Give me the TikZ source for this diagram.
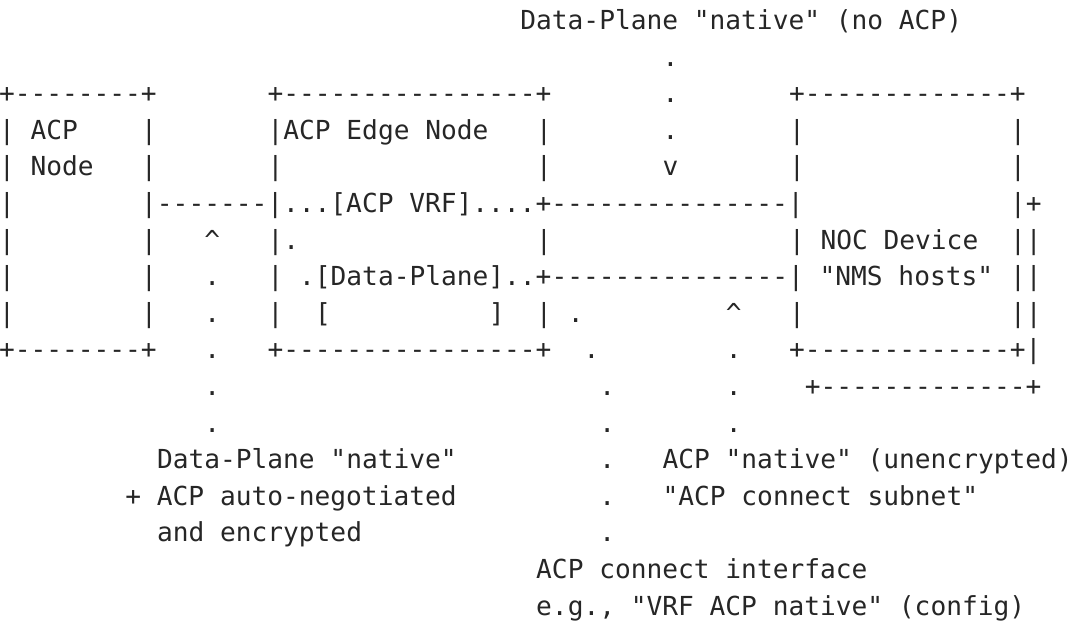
\documentclass[tikz,border=0pt]{standalone}
\usepackage{fontspec}
\newfontfamily\asciimono[Ligatures=TeXOff]{DejaVu Sans Mono}
\begin{document}
\begin{tikzpicture}[x=1pt,y=1pt,
  txt/.style={inner sep=0pt,outer sep=0pt,anchor=base west,text=black!85,
    font=\asciimono\fontsize{26.2}{30}\selectfont}]
\useasboundingbox (0,0) rectangle (1071,-626);
\newcommand\R[3]{\node[txt] (t-#1-#2) at ({-1+#2*15.8},{-29.5-(#1-1)*36.6}) {#3};}
% row 1-2
\R{1}{33}{Data-Plane "native" (no ACP)}
\R{2}{42}{.}
% row 3
\R{3}{0}{+--------+}
\R{3}{17}{+----------------+}
\R{3}{42}{.}
\R{3}{50}{+-------------+}
% row 4
\R{4}{0}{| ACP}
\R{4}{9}{|}
\R{4}{17}{|ACP Edge Node}
\R{4}{34}{|}
\R{4}{42}{.}
\R{4}{50}{|}
\R{4}{64}{|}
% row 5
\R{5}{0}{| Node}
\R{5}{9}{|}
\R{5}{17}{|}
\R{5}{34}{|}
\R{5}{42}{v}
\R{5}{50}{|}
\R{5}{64}{|}
% row 6
\R{6}{0}{|}
\R{6}{9}{|-------|...[ACP VRF]....+---------------|}
\R{6}{64}{|+}
% row 7
\R{7}{0}{|}
\R{7}{9}{|}
\R{7}{13}{\textasciicircum}
\R{7}{17}{|.}
\R{7}{34}{|}
\R{7}{50}{| NOC Device}
\R{7}{64}{||}
% row 8
\R{8}{0}{|}
\R{8}{9}{|}
\R{8}{13}{.}
\R{8}{17}{| .[Data-Plane]..+---------------| "NMS hosts"}
\R{8}{64}{||}
% row 9
\R{9}{0}{|}
\R{9}{9}{|}
\R{9}{13}{.}
\R{9}{17}{|}
\R{9}{20}{[}
\R{9}{31}{]}
\R{9}{34}{| .}
\R{9}{46}{\textasciicircum}
\R{9}{50}{|}
\R{9}{64}{||}
% row 10
\R{10}{0}{+--------+}
\R{10}{13}{.}
\R{10}{17}{+----------------+}
\R{10}{37}{.}
\R{10}{46}{.}
\R{10}{50}{+-------------+|}
% row 11
\R{11}{13}{.}
\R{11}{38}{.}
\R{11}{46}{.}
\R{11}{51}{+-------------+}
% row 12
\R{12}{13}{.}
\R{12}{38}{.}
\R{12}{46}{.}
% row 13
\R{13}{10}{Data-Plane "native"}
\R{13}{38}{.}
\R{13}{42}{ACP "native" (unencrypted)}
% row 14
\R{14}{8}{+ ACP auto-negotiated}
\R{14}{38}{.}
\R{14}{42}{"ACP connect subnet"}
% row 15
\R{15}{10}{and encrypted}
\R{15}{38}{.}
% row 16-17
\R{16}{34}{ACP connect interface}
\R{17}{34}{e.g., "VRF ACP native" (config)}
\end{tikzpicture}
\end{document}
